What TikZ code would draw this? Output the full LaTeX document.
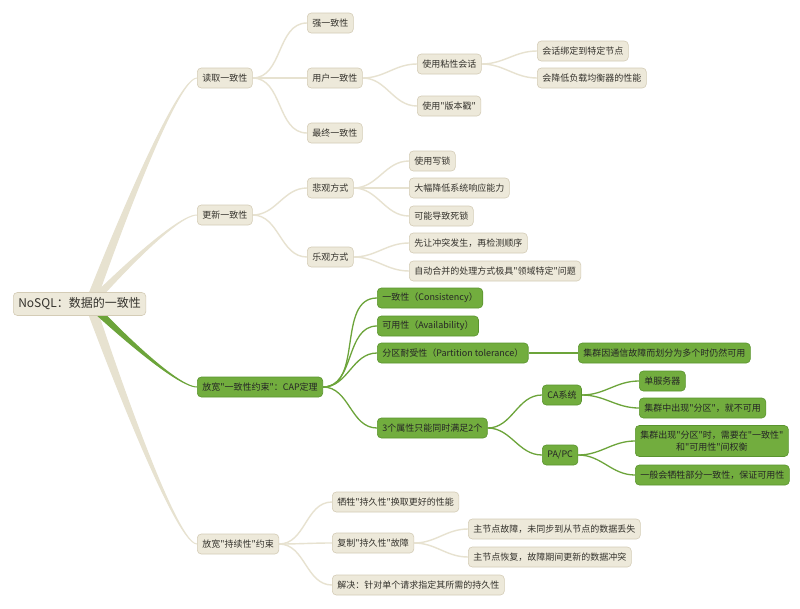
\documentclass[tikz,border=0pt]{standalone}
\usepackage{fontspec}
\newfontfamily\cjkfont{Noto Sans CJK SC}
\usepackage{tikz}
\usetikzlibrary{
  positioning,
  calc,
  backgrounds
}
\definecolor{paper}{RGB}{237,233,218}
\definecolor{paperline}{RGB}{212,204,182}
\definecolor{twig}{RGB}{231,226,208}
\definecolor{capgreen}{RGB}{114,173,62}
\definecolor{capline}{RGB}{90,148,46}
\definecolor{capwire}{RGB}{108,164,58}
\definecolor{ink}{RGB}{52,50,44}

\tikzset{
  topic/.style={draw=paperline, fill=paper, rounded corners=4pt, line width=0.6pt,
    text=ink, font=\cjkfont\fontsize{9}{11}\selectfont, minimum height=20pt,
    inner xsep=5pt, inner ysep=2pt, anchor=west},
  captopic/.style={topic, draw=capline, fill=capgreen, text=black!85},
  twiglink/.style={draw=twig, line width=1.4pt},
  caplink/.style={draw=capwire, line width=1.3pt},
}

% tapered main branch from the root hub to a node
\newcommand\trunkto[2]{%
  \filldraw[#1, line width=1pt] ($(hub)+(-5,0)$) .. controls ($(hub)+(-5,0)$) and ($(#2.west)+(-24,0)$) .. (#2.west)
    .. controls ($(#2.west)+(-24,0)$) and ($(hub)+(5,0)$) .. ($(hub)+(5,0)$) -- cycle;}

\begin{document}
\begin{tikzpicture}[x=1pt, y=-1pt]
  \useasboundingbox (0,0) rectangle (800,608);

  % root
  \node[topic, font=\cjkfont\fontsize{12}{14}\selectfont, minimum height=23pt] (root) at (13,304) {NoSQL：数据的一致性};
  \coordinate (hub) at (90,304);

  % read consistency
  \node[topic] (read) at (197,78) {读取一致性};
  \node[topic] (strong) at (307,23) {强一致性};
  \node[topic] (user) at (307,78) {用户一致性};
  \node[topic] (eventual) at (307,133) {最终一致性};
  \node[topic] (sticky) at (417,64) {使用粘性会话};
  \node[topic] (stamp) at (417,106) {使用"版本戳"};
  \node[topic] (bind) at (537,51) {会话绑定到特定节点};
  \node[topic] (balance) at (537,78) {会降低负载均衡器的性能};

  % update consistency
  \node[topic] (update) at (197,215) {更新一致性};
  \node[topic] (pess) at (307,188) {悲观方式};
  \node[topic] (opt) at (307,257) {乐观方式};
  \node[topic] (wlock) at (409,161) {使用写锁};
  \node[topic] (slow) at (409,188) {大幅降低系统响应能力};
  \node[topic] (dead) at (409,216) {可能导致死锁};
  \node[topic] (first) at (409,243) {先让冲突发生，再检测顺序};
  \node[topic] (merge) at (409,271) {自动合并的处理方式极具"领域特定"问题};

  % CAP
  \node[captopic] (cap) at (197,387) {放宽"一致性约束"：CAP定理};
  \node[captopic] (cons) at (377,298) {一致性（Consistency）};
  \node[captopic] (avail) at (377,326) {可用性（Availability）};
  \node[captopic] (part) at (377,353) {分区耐受性（Partition tolerance）};
  \node[captopic] (split) at (578,353) {集群因通信故障而划分为多个时仍然可用};
  \node[captopic] (two) at (377,428) {3个属性只能同时满足2个};
  \node[captopic] (ca) at (542,395) {CA系统};
  \node[captopic] (papc) at (542,455) {PA/PC};
  \node[captopic] (single) at (639,381) {单服务器};
  \node[captopic] (down) at (639,408) {集群中出现"分区"，就不可用};
  \node[captopic, align=center, minimum height=31pt, font=\cjkfont\fontsize{9}{12}\selectfont] (trade) at (635,441) {集群出现"分区"时，需要在"一致性"\\和"可用性"间权衡};
  \node[captopic] (give) at (635,475) {一般会牺牲部分一致性，保证可用性};

  % durability
  \node[topic] (dur) at (197,544) {放宽"持续性"约束};
  \node[topic] (perf) at (332,502) {牺牲"持久性"换取更好的性能};
  \node[topic] (repl) at (332,543) {复制"持久性"故障};
  \node[topic] (fix) at (332,585) {解决：针对单个请求指定其所需的持久性};
  \node[topic] (lost) at (468,529) {主节点故障，未同步到从节点的数据丢失};
  \node[topic] (clash) at (468,557) {主节点恢复，故障期间更新的数据冲突};

  \begin{scope}[on background layer]
    \fill[white] (0,0) rectangle (800,608);
    % main branches
    \trunkto{twig}{read}
    \trunkto{twig}{update}
    \trunkto{twig}{dur}
    \trunkto{capwire}{cap}
    % beige links
    \foreach \a/\b in {read/strong, read/user, read/eventual, user/sticky, user/stamp,
        sticky/bind, sticky/balance, update/pess, update/opt, pess/wlock, pess/slow,
        pess/dead, opt/first, opt/merge, dur/perf, dur/repl, dur/fix, repl/lost, repl/clash}
      \path[twiglink] (\a.east) to[out=0, in=180] (\b.west);
    % green links
    \foreach \a/\b in {cap/cons, cap/avail, cap/part, cap/two, part/split, two/ca, two/papc,
        ca/single, ca/down, papc/trade, papc/give}
      \path[caplink] (\a.east) to[out=0, in=180] (\b.west);
  \end{scope}
\end{tikzpicture}
\end{document}
